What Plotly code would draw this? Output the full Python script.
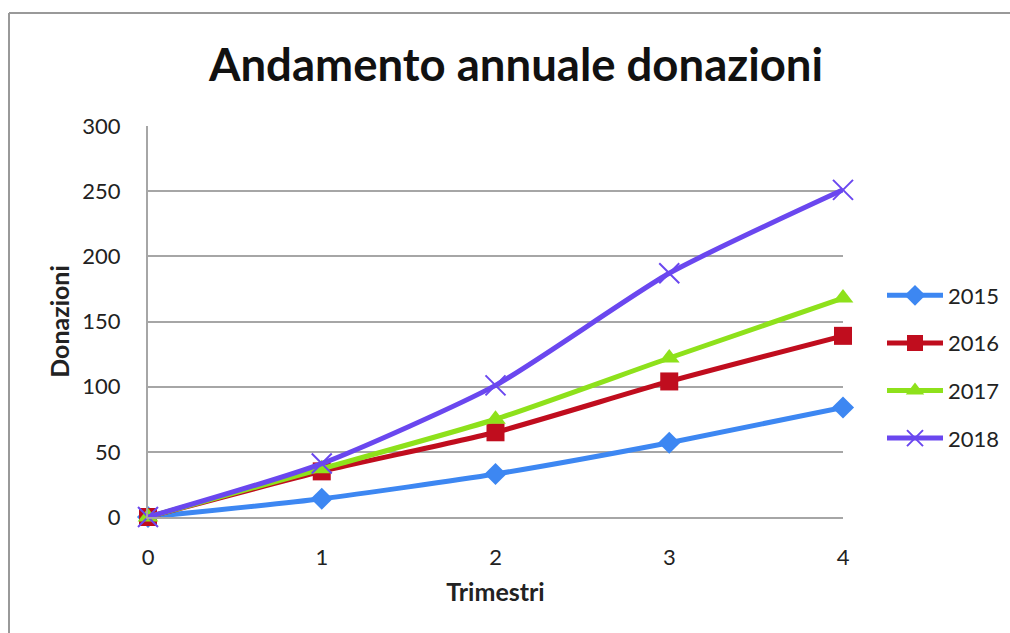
import plotly.graph_objects as go

quarters = [0, 1, 2, 3, 4]
series_names = ["2015", "2016", "2017", "2018"]
v2015 = [0, 14, 33, 57, 84]
v2016 = [0, 35, 65, 104, 139]
v2017 = [0, 37, 75, 122, 168]
v2018 = [0, 41, 101, 187, 251]
y_ticks = [0, 50, 100, 150, 200, 250, 300]

colors = ["#3d87f2", "#c00d1e", "#8ee11b", "#6a47ef"]
symbols = ["diamond", "square", "triangle-up", "x-thin"]
sizes = [17, 18, 18, 20]

fig = go.Figure()
for name, vals, c, s, sz in zip(series_names, [v2015, v2016, v2017, v2018], colors, symbols, sizes):
    marker = dict(symbol=s, size=sz, color=c)
    if s == "x-thin":
        marker["line"] = dict(color=c, width=2)
    else:
        marker["line"] = dict(width=0)
    fig.add_trace(go.Scatter(
        x=quarters, y=vals, name=name, mode="lines+markers",
        line=dict(color=c, width=5, shape="spline", smoothing=0.6),
        marker=marker, legendgroup=name,
    ))

W, H = 1010, 633
# plot area in window pixels
L, R, T, B = 148, 843, 126, 517
pw, ph = R - L, B - T

def px_x(x):
    return (x - L) / pw

def px_y(y):
    return (B - y) / ph

fig.update_layout(
    width=W, height=H,
    margin=dict(l=L, r=W - R, t=T, b=H - B, pad=0, autoexpand=False),
    paper_bgcolor="white", plot_bgcolor="white",
    font=dict(family="Lato, Carlito, sans-serif", size=22, color="#222222"),
    title=dict(text="<b>Andamento annuale donazioni</b>", x=px_x(516), xref="paper",
               xanchor="center", y=1 - 65 / H, yanchor="middle",
               font=dict(size=45.5, color="#111111")),
    showlegend=True,
    legend=dict(x=px_x(882), y=px_y(367), xanchor="left", yanchor="middle",
                font=dict(size=22), tracegroupgap=16, itemwidth=56,
                bgcolor="rgba(0,0,0,0)"),
    xaxis=dict(range=[0, 4], tickvals=quarters, showgrid=False, zeroline=False,
               showline=True, linecolor="#a6a6a6", linewidth=2, ticks="",
               ticklabelstandoff=20,
               title=dict(text="<b>Trimestri</b>", font=dict(size=25), standoff=14)),
    yaxis=dict(range=[0, 300], tickvals=y_ticks, showgrid=True, gridcolor="#a6a6a6",
               gridwidth=2, zeroline=False, showline=True, linecolor="#a6a6a6",
               linewidth=2, ticks="", ticklabelstandoff=21,
               title=dict(text="<b>Donazioni</b>", font=dict(size=25), standoff=6)),
    shapes=[
        dict(type="line", xref="paper", yref="paper", x0=px_x(9), x1=px_x(1020),
             y0=px_y(13), y1=px_y(13), line=dict(color="#999999", width=2)),
        dict(type="line", xref="paper", yref="paper", x0=px_x(9), x1=px_x(9),
             y0=px_y(13), y1=px_y(640), line=dict(color="#999999", width=2)),
    ],
)
fig.update_traces(cliponaxis=False)

fig.write_html(
    "out.html",
    config={"displayModeBar": False},
    post_script="document.body.style.margin='0';document.body.style.overflow='hidden';",
)
